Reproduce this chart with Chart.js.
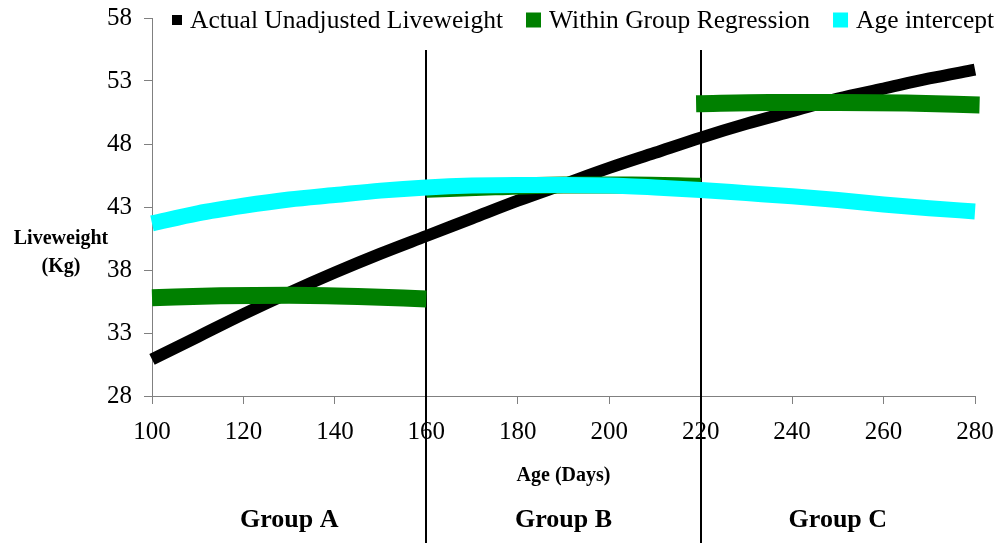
<!DOCTYPE html>
<html>
<head>
<meta charset="utf-8">
<script src="https://cdn.jsdelivr.net/npm/chart.js@4.4.1/dist/chart.umd.min.js"></script>
<style>
  body { margin: 0; background: #fff; }
  #wrap { width: 1001px; height: 543px; position: relative; }
</style>
</head>
<body>
<div id="wrap"><canvas id="liveChart"></canvas></div>
<script>
// series names (legend order)
const seriesNames = ['Actual Unadjusted Liveweight', 'Within Group Regression', 'Age intercept'];
const seriesColors = ['#000000', '#008000', '#00FFFF'];

// actual liveweight, read every 10 days
const actualDays = [100, 110, 120, 130, 140, 150, 160, 170, 180, 190, 200, 210, 220, 230, 240, 250, 260, 270, 280];
const actualKg = [30.9, 32.7, 34.5, 36.2, 37.8, 39.3, 40.7, 42.1, 43.5, 44.8, 46.1, 47.3, 48.5, 49.6, 50.6, 51.6, 52.4, 53.2, 53.9];

// within group regressions
const groupADays = [100, 115, 130, 145, 160];
const groupAKg = [35.8, 35.95, 36.0, 35.9, 35.7];
const groupBDays = [160, 175, 190, 205, 220];
const groupBKg = [44.4, 44.6, 44.75, 44.75, 44.65];
const groupCDays = [219, 235, 250, 265, 281];
const groupCKg = [51.2, 51.3, 51.3, 51.25, 51.1];

// age intercept curve
const interceptDays = [100, 110, 120, 130, 140, 150, 160, 170, 180, 190, 200, 210, 220, 230, 240, 250, 260, 270, 280];
const interceptKg = [41.7, 42.5, 43.1, 43.6, 43.95, 44.3, 44.55, 44.7, 44.75, 44.75, 44.7, 44.55, 44.35, 44.1, 43.85, 43.55, 43.2, 42.9, 42.65];

// axes + groups
const xTicks = [100, 120, 140, 160, 180, 200, 220, 240, 260, 280];
const yTicks = [28, 33, 38, 43, 48, 53, 58];
const groupNames = ['Group A', 'Group B', 'Group C'];
const groupBounds = [100, 160, 220, 280];

const serif = "'Liberation Serif', 'Times New Roman', serif";

function toPoints(xs, ys) {
    return xs.map((x, i) => ({x: x, y: ys[i]}));
}

const regressionPoints = [
    ...toPoints(groupADays, groupAKg),
    {x: 160, y: null},
    ...toPoints(groupBDays, groupBKg),
    {x: 220, y: null},
    ...toPoints(groupCDays, groupCKg)
];

// no extra padding for overhanging tick labels, layout padding decides
function noLabelPadding(scale) {
    scale.paddingTop = 0;
    scale.paddingBottom = 0;
    scale.paddingLeft = 0;
    scale.paddingRight = 0;
}

const extras = {
    id: 'extras',
    beforeDatasetsDraw(chart) {
        const {ctx, scales: {x}} = chart;
        ctx.save();
        ctx.strokeStyle = '#000';
        ctx.lineWidth = 2;
        // group dividers
        groupBounds.slice(1, -1).forEach(v => {
            const px = Math.round(x.getPixelForValue(v));
            ctx.beginPath();
            ctx.moveTo(px, 50);
            ctx.lineTo(px, chart.height);
            ctx.stroke();
        });
        ctx.restore();
    },
    afterDraw(chart) {
        const {ctx, chartArea, scales: {x}} = chart;
        ctx.save();
        ctx.fillStyle = '#000';

        // legend
        ctx.font = '25.5px ' + serif;
        ctx.textBaseline = 'middle';
        ctx.textAlign = 'left';
        let lx = 172;
        const ly = 20;
        seriesNames.forEach((name, i) => {
            const size = i === 0 ? 10 : 15;
            ctx.fillStyle = seriesColors[i];
            ctx.fillRect(lx, ly - size / 2, size, size);
            ctx.fillStyle = '#000';
            const tx = lx + size + 8;
            ctx.fillText(name, tx, ly + 1);
            lx = tx + ctx.measureText(name).width + 23;
        });

        // y title (horizontal, two lines)
        ctx.font = 'bold 20px ' + serif;
        ctx.textAlign = 'center';
        ctx.fillText('Liveweight', 61, 239);
        ctx.fillText('(Kg)', 61, 267);

        // x title
        const mid = (chartArea.left + chartArea.right) / 2;
        ctx.fillText('Age (Days)', mid, 476);

        // group labels
        ctx.font = 'bold 26px ' + serif;
        groupNames.forEach((g, i) => {
            const cx = (x.getPixelForValue(groupBounds[i]) + x.getPixelForValue(groupBounds[i + 1])) / 2;
            ctx.fillText(g, cx, 520);
        });
        ctx.restore();
    }
};

const data = {
    datasets: [{
        label: seriesNames[0],
        data: toPoints(actualDays, actualKg),
        borderColor: seriesColors[0],
        borderWidth: 12,
        borderCapStyle: 'butt',
        cubicInterpolationMode: 'monotone',
        pointRadius: 0,
        clip: false,
        order: 3
    }, {
        label: seriesNames[1],
        data: regressionPoints,
        borderColor: seriesColors[1],
        borderWidth: 17,
        borderCapStyle: 'butt',
        cubicInterpolationMode: 'monotone',
        spanGaps: false,
        pointRadius: 0,
        clip: false,
        order: 2
    }, {
        label: seriesNames[2],
        data: toPoints(interceptDays, interceptKg),
        borderColor: seriesColors[2],
        borderWidth: 16,
        borderCapStyle: 'butt',
        cubicInterpolationMode: 'monotone',
        pointRadius: 0,
        clip: false,
        order: 1
    }]
};

const options = {
    responsive: true,
    maintainAspectRatio: false,
    animation: false,
    layout: {
        padding: {top: 18, right: 26, bottom: 0, left: 0}
    },
    plugins: {
        legend: {display: false},
        tooltip: {enabled: false}
    },
    scales: {
        x: {
            type: 'linear',
            min: 100,
            max: 280,
            afterBuildTicks(scale) {
                scale.ticks = xTicks.map(v => ({value: v}));
            },
            afterFit(scale) {
                scale.height = 147;
                noLabelPadding(scale);
            },
            grid: {display: true, drawOnChartArea: false, drawTicks: true, tickLength: 8, color: '#808080'},
            border: {display: true, color: '#808080', width: 1},
            ticks: {color: '#000', font: {family: serif, size: 25}, padding: 13, maxRotation: 0}
        },
        y: {
            min: 28,
            max: 58,
            afterBuildTicks(scale) {
                scale.ticks = yTicks.map(v => ({value: v}));
            },
            afterFit(scale) {
                scale.width = 152;
                noLabelPadding(scale);
            },
            grid: {display: true, drawOnChartArea: false, drawTicks: true, tickLength: 8, color: '#808080'},
            border: {display: true, color: '#808080', width: 1},
            ticks: {color: '#000', font: {family: serif, size: 25}, padding: 12}
        }
    }
};

const liveChart = new Chart(document.getElementById('liveChart'), {
    type: 'line',
    data: data,
    options: options,
    plugins: [extras]
});
</script>
</body>
</html>
